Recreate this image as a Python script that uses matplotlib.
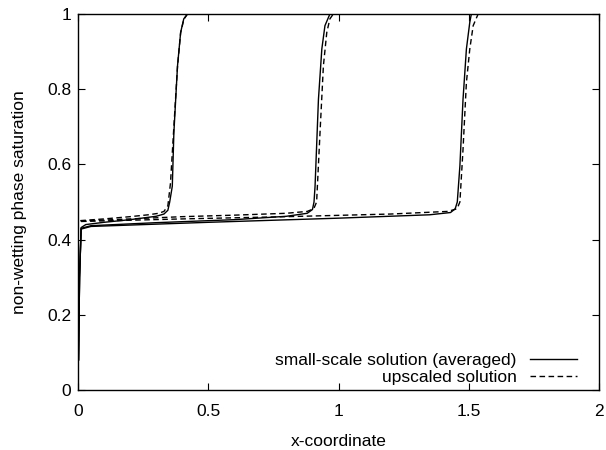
import matplotlib
matplotlib.use("Agg")
import matplotlib.pyplot as plt
from matplotlib.ticker import FuncFormatter

plt.rcParams['font.family'] = ['Liberation Sans', 'DejaVu Sans']

# small-scale solution (averaged), three times
t1_small_x = [0.002, 0.006, 0.012, 0.03, 0.1, 0.2, 0.3, 0.33, 0.345, 0.352, 0.362, 0.368, 0.382, 0.394, 0.406, 0.42]
t1_small_y = [0.08, 0.30, 0.432, 0.440, 0.446, 0.453, 0.462, 0.468, 0.478, 0.50, 0.542, 0.684, 0.862, 0.951, 0.987, 1.0]
t2_small_x = [0.002, 0.006, 0.012, 0.05, 0.3, 0.6, 0.8, 0.88, 0.9, 0.906, 0.910, 0.923, 0.936, 0.948, 0.967]
t2_small_y = [0.08, 0.30, 0.430, 0.437, 0.445, 0.453, 0.462, 0.470, 0.480, 0.50, 0.542, 0.773, 0.907, 0.969, 1.0]
t3_small_x = [0.002, 0.006, 0.012, 0.05, 0.5, 1.0, 1.35, 1.43, 1.448, 1.456, 1.466, 1.478, 1.491, 1.504, 1.51]
t3_small_y = [0.08, 0.30, 0.428, 0.435, 0.446, 0.457, 0.466, 0.472, 0.482, 0.50, 0.596, 0.773, 0.907, 0.978, 1.0]

# upscaled solution, three times
t1_up_x = [0.0, 0.0, 0.1, 0.2, 0.27, 0.31, 0.33, 0.345, 0.355, 0.368, 0.382, 0.394, 0.406, 0.42]
t1_up_y = [0.0, 0.450, 0.455, 0.461, 0.466, 0.470, 0.475, 0.49, 0.55, 0.70, 0.86, 0.95, 0.985, 1.0]
t2_up_x = [0.0, 0.0, 0.2, 0.4, 0.6, 0.8, 0.88, 0.905, 0.916, 0.929, 0.942, 0.955, 0.967, 0.98]
t2_up_y = [0.0, 0.449, 0.455, 0.461, 0.465, 0.470, 0.475, 0.482, 0.50, 0.684, 0.862, 0.951, 0.987, 1.0]
t3_up_x = [0.0, 0.0, 0.4, 0.8, 1.2, 1.42, 1.455, 1.466, 1.478, 1.491, 1.504, 1.517, 1.536]
t3_up_y = [0.0, 0.448, 0.455, 0.461, 0.468, 0.475, 0.482, 0.50, 0.64, 0.818, 0.907, 0.969, 1.0]

x_ticks = [0, 0.5, 1, 1.5, 2]
y_ticks = [0, 0.2, 0.4, 0.6, 0.8, 1]

FS = 12.5

fig = plt.figure(figsize=(6.06, 4.5), dpi=100)
ax = fig.add_axes([78/606, 60/450, (599-78)/606, (390-14)/450])

small = [(t1_small_x, t1_small_y), (t2_small_x, t2_small_y), (t3_small_x, t3_small_y)]
up = [(t1_up_x, t1_up_y), (t2_up_x, t2_up_y), (t3_up_x, t3_up_y)]

for i, (xs, ys) in enumerate(small):
    ax.plot(xs, ys, color='black', lw=1.0, ls='-',
            label='small-scale solution (averaged)' if i == 0 else None)
for i, (xs, ys) in enumerate(up):
    ax.plot(xs, ys, color='black', lw=1.0, ls=(0, (4, 2.5)),
            label='upscaled solution' if i == 0 else None)

ax.set_xlim(0, 2)
ax.set_ylim(0, 1)
ax.set_xticks(x_ticks)
ax.set_yticks(y_ticks)
fmt = FuncFormatter(lambda v, p: '%g' % v)
ax.xaxis.set_major_formatter(fmt)
ax.yaxis.set_major_formatter(fmt)
ax.tick_params(direction='in', top=True, right=True, length=5, width=0.8, labelsize=FS)
ax.tick_params(axis='x', pad=10)
ax.tick_params(axis='y', pad=5)
for s in ax.spines.values():
    s.set_linewidth(1.0)

ax.set_xlabel('x-coordinate', fontsize=FS, labelpad=11)
ax.set_ylabel('non-wetting phase saturation', fontsize=FS, labelpad=14)

leg = ax.legend(loc='lower right', frameon=False, markerfirst=False, fontsize=FS,
                handlelength=2.7, handletextpad=0.8, labelspacing=0.1,
                borderpad=0.0, bbox_to_anchor=(0.975, -0.01))
for t in leg.get_texts():
    t.set_ha('right')
leg._legend_box.align = 'right'

fig.savefig('out.png', dpi=100)
